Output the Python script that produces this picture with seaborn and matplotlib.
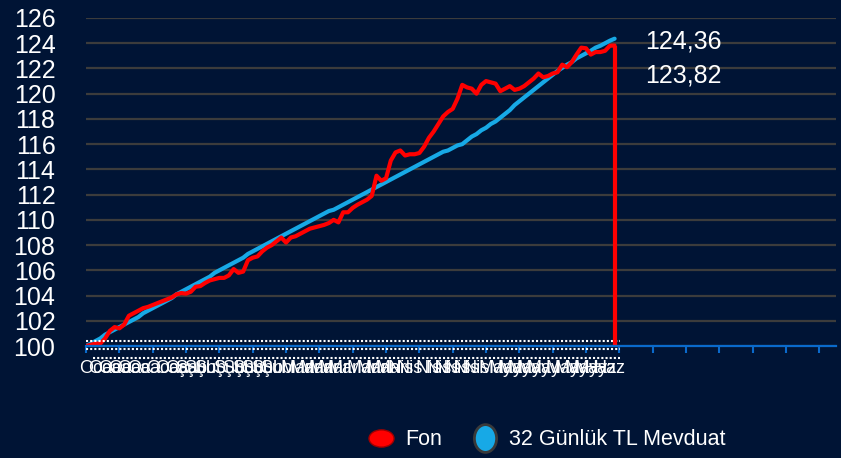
import numpy as np
import pandas as pd
import matplotlib.pyplot as plt
import seaborn as sns
from matplotlib.path import Path
from matplotlib.transforms import Affine2D
from matplotlib.lines import Line2D

# Fon ve 32 günlük TL mevduat endeksi (başlangıç = 100)
fon = [
    100.0, 100.1, 100.2, 100.2, 100.6, 101.2, 101.5, 101.4, 101.7, 102.4,
    102.6, 102.8, 103.0, 103.1, 103.25, 103.4, 103.55, 103.7, 103.85, 104.1,
    104.2, 104.15, 104.3, 104.7, 104.75, 105.0, 105.2, 105.3, 105.4, 105.4,
    105.6, 106.1, 105.8, 105.9, 106.8, 107.0, 107.1, 107.5, 107.8, 108.0,
    108.3, 108.6, 108.2, 108.6, 108.7, 108.9, 109.1, 109.3, 109.4, 109.5,
    109.6, 109.75, 110.0, 109.8, 110.6, 110.6, 110.95, 111.2, 111.4, 111.6,
    111.9, 113.5, 113.1, 113.3, 114.7, 115.35, 115.5, 115.1, 115.2, 115.2,
    115.3, 115.8, 116.5, 117.0, 117.6, 118.2, 118.55, 118.8, 119.6, 120.7,
    120.5, 120.4, 120.0, 120.7, 121.0, 120.9, 120.8, 120.2, 120.4, 120.6,
    120.3, 120.4, 120.6, 120.9, 121.2, 121.6, 121.3, 121.4, 121.6, 121.7,
    122.3, 122.1, 122.5, 123.1, 123.65, 123.6, 123.1, 123.3, 123.3, 123.4,
    123.8, 123.82,
]
mevduat = [
    100.0, 100.2, 100.4, 100.6, 100.9, 101.1, 101.3, 101.5, 101.7, 101.9,
    102.1, 102.3, 102.6, 102.8, 103.0, 103.2, 103.4, 103.6, 103.8, 104.1,
    104.3, 104.5, 104.7, 104.9, 105.1, 105.3, 105.5, 105.8, 106.0, 106.2,
    106.4, 106.6, 106.8, 107.0, 107.3, 107.5, 107.7, 107.9, 108.1, 108.3,
    108.5, 108.7, 108.9, 109.1, 109.3, 109.5, 109.7, 109.9, 110.1, 110.3,
    110.5, 110.7, 110.8, 111.0, 111.2, 111.4, 111.6, 111.8, 112.0, 112.2,
    112.4, 112.6, 112.8, 113.0, 113.2, 113.4, 113.6, 113.8, 114.0, 114.2,
    114.4, 114.6, 114.8, 115.0, 115.2, 115.4, 115.5, 115.7, 115.9, 116.0,
    116.3, 116.6, 116.8, 117.1, 117.3, 117.6, 117.8, 118.1, 118.4, 118.7,
    119.1, 119.4, 119.7, 120.0, 120.3, 120.6, 120.9, 121.2, 121.5, 121.8,
    122.05, 122.3, 122.5, 122.8, 123.0, 123.2, 123.4, 123.65, 123.8, 124.0,
    124.2, 124.36,
]
seri_adlari = ["32 Günlük TL Mevduat", "Fon"]
aylar = ["Oca", "Şub", "Mar", "Nis", "May", "Haz", "Tem", "Ağu", "Eyl", "Eki", "Kas", "Ara"]
tarihler = pd.bdate_range("2023-01-02", periods=len(fon))
etiketler = [aylar[t.month - 1] for t in tarihler]
y_ticks = list(range(100, 127, 2))

LACIVERT = "#001435"
KIRMIZI = "#ff0000"
MAVI = "#17a9e6"
EKSEN = "#0a6acb"
IZGARA = "#3c3c3c"

sns.set_theme(style="dark")
plt.rcParams["font.family"] = ["Liberation Sans", "DejaVu Sans"]

df = pd.DataFrame({"gun": range(len(fon)), "Fon": fon, "32 Günlük TL Mevduat": mevduat})
uzun = df.melt("gun", var_name="seri", value_name="deger")

fig = plt.figure(figsize=(8.41, 4.58), dpi=100, facecolor=LACIVERT)
ax = fig.add_axes([0.1023, 0.2445, 0.8918, 0.7162], facecolor=LACIVERT)

sns.lineplot(data=uzun, x="gun", y="deger", hue="seri", hue_order=seri_adlari,
             palette={"Fon": KIRMIZI, "32 Günlük TL Mevduat": MAVI},
             linewidth=3, legend=False, ax=ax)
son = len(fon) - 1
# son günde fon serisi eksene düşüyor
ax.vlines(son, y_ticks[0], fon[-1], color=KIRMIZI, linewidth=3, zorder=3)

ax.set_ylim(y_ticks[0], y_ticks[-1])
ax.set_xlim(0, 157.5)
ax.set_yticks(y_ticks)
ax.set_yticklabels([str(v) for v in y_ticks])
ax.yaxis.grid(True, color=IZGARA, linewidth=1.6)
ax.xaxis.grid(False)
ax.set_xlabel("")
ax.set_ylabel("")

for s in ["left", "right", "top"]:
    ax.spines[s].set_visible(False)
ax.spines["bottom"].set_color(EKSEN)
ax.spines["bottom"].set_linewidth(1.6)
ax.spines["bottom"].set_zorder(4)

ax.set_xticks(np.arange(0, 155, 7))
ax.set_xticklabels([])
ax.set_xticks(range(0, len(fon), 2), minor=True)
ax.set_xticklabels(etiketler[::2], minor=True)
ax.tick_params(axis="x", which="major", direction="out", length=5, width=1.5, color=EKSEN, bottom=True)
ax.tick_params(axis="x", which="minor", length=0, pad=10, labelsize=13, labelcolor="white")
ax.tick_params(axis="y", length=0, pad=22, labelsize=18, labelcolor="white")

# noktalı yardımcı çizgiler
ax.hlines([100.42, 99.74, 99.02], xmin=[0, 0, 1.5], xmax=son + 1.2, colors="white",
          linestyles=[(0, (1, 1))], linewidth=1.5, clip_on=False, zorder=2)

ax.annotate(f"{mevduat[-1]:.2f}".replace(".", ","), xy=(son, mevduat[-1]), xytext=(31, -3),
            textcoords="offset pixels", ha="left", va="center", color="white", fontsize=18)
ax.annotate(f"{fon[-1]:.2f}".replace(".", ","), xy=(son, fon[-1]), xytext=(31, -30),
            textcoords="offset pixels", ha="left", va="center", color="white", fontsize=18)

daire = Path.unit_circle()
kirmizi_elips = daire.transformed(Affine2D().scale(1.45, 1))
mavi_elips = daire.transformed(Affine2D().scale(0.8, 1))
tutamaklar = [
    Line2D([], [], linestyle="none", marker=kirmizi_elips, markersize=18,
           markerfacecolor=KIRMIZI, markeredgecolor="#a00000", markeredgewidth=1),
    Line2D([], [], linestyle="none", marker=mavi_elips, markersize=20,
           markerfacecolor=MAVI, markeredgecolor="#3a3a3a", markeredgewidth=2),
]
fig.legend(tutamaklar, ["Fon", "32 Günlük TL Mevduat"], loc="center", bbox_to_anchor=(0.65, 0.04),
           ncol=2, frameon=False, fontsize=15.5, labelcolor="white",
           handlelength=1.2, handletextpad=0.5, columnspacing=1.4)

fig.savefig("out.png", dpi=100, facecolor=LACIVERT)
